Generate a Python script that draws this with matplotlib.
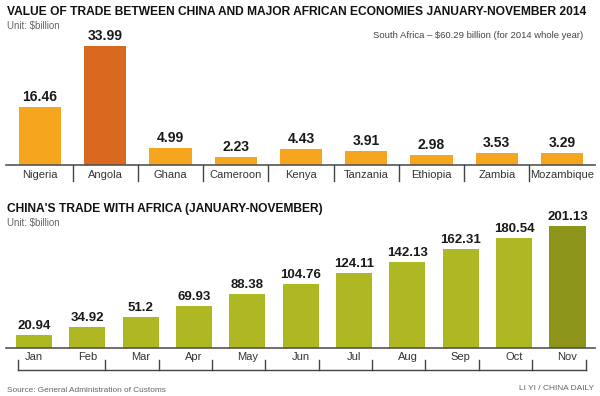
import matplotlib
matplotlib.use("Agg")
import matplotlib.pyplot as plt
import numpy as np

# Data
countries = ["Nigeria", "Angola", "Ghana", "Cameroon", "Kenya",
             "Tanzania", "Ethiopia", "Zambia", "Mozambique"]
country_values = [16.46, 33.99, 4.99, 2.23, 4.43, 3.91, 2.98, 3.53, 3.29]
country_labels = ["16.46", "33.99", "4.99", "2.23", "4.43", "3.91", "2.98", "3.53", "3.29"]

months = ["Jan", "Feb", "Mar", "Apr", "May", "Jun",
          "Jul", "Aug", "Sep", "Oct", "Nov"]
month_values = [20.94, 34.92, 51.2, 69.93, 88.38, 104.76,
                124.11, 142.13, 162.31, 180.54, 201.13]
month_labels = ["20.94", "34.92", "51.2", "69.93", "88.38", "104.76",
                "124.11", "142.13", "162.31", "180.54", "201.13"]

W, H = 600, 396
plt.rcParams["font.family"] = ["Liberation Sans", "DejaVu Sans"]

fig = plt.figure(figsize=(W / 100, H / 100), dpi=100)
fig.patch.set_facecolor("white")
renderer = fig.canvas.get_renderer()


def fy(px):
    # pixel-from-top to figure fraction
    return 1 - px / H


def add_axes_px(top, bottom):
    return fig.add_axes([0, fy(bottom), 1, (bottom - top) / H])


def fit_width(txt, target_px):
    # scale font so the text is as wide as in the reference
    w = txt.get_window_extent(renderer=renderer).width
    txt.set_fontsize(txt.get_fontsize() * target_px / w)


# ---------------- Top chart ----------------
ax1 = add_axes_px(40, 165)
step1 = 65.25
first1 = 40
ax1.set_xlim(-first1 / step1, (W - first1) / step1)
ppu1 = 3.5
ax1.set_ylim(0, 125 / ppu1)
ax1.axis("off")

x1 = np.arange(len(countries))
colors1 = ["#F6A61E"] * len(countries)
colors1[1] = "#D9691F"
ax1.bar(x1, country_values, width=0.645, color=colors1)
for xi, v, lab in zip(x1, country_values, country_labels):
    ax1.text(xi, v + 3 / ppu1, lab, ha="center", va="bottom",
             fontsize=10, fontweight="bold", color="#1a1a1a")
# baseline
ax1.plot([(6 - first1) / step1, (595 - first1) / step1], [0, 0],
         color="#555555", lw=1.2, clip_on=False)
# separators
for b in x1[:-1] + 0.5:
    ax1.plot([b, b], [0, -16 / ppu1], color="#444444", lw=1, clip_on=False)
for xi, name in zip(x1, countries):
    ax1.text(xi, -10 / ppu1, name, ha="center", va="center",
             fontsize=8, color="#333333")

# ---------------- Bottom chart ----------------
ax2 = add_axes_px(220, 348)
step2 = 53.35
first2 = 34
ax2.set_xlim(-first2 / step2, (W - first2) / step2)
ppu2 = 0.607
ax2.set_ylim(0, 128 / ppu2)
ax2.axis("off")

x2 = np.arange(len(months))
colors2 = ["#AEB822"] * len(months)
colors2[-1] = "#8C951A"
bw2 = 0.675
ax2.bar(x2, month_values, width=bw2, color=colors2)
for xi, v, lab in zip(x2, month_values, month_labels):
    ax2.text(xi, v + 3 / ppu2, lab, ha="center", va="bottom",
             fontsize=9.5, fontweight="bold", color="#1a1a1a")
ax2.plot([(6 - first2) / step2, (595 - first2) / step2], [0, 0],
         color="#555555", lw=1.2, clip_on=False)
for xi, name in zip(x2, months):
    ax2.text(xi, -9 / ppu2, name, ha="center", va="center",
             fontsize=8, color="#333333")
# bracket under months
ticks = [-0.3] + list(x2[1:] + bw2 / 2)
y_top, y_bot = -12 / ppu2, -22 / ppu2
ax2.plot([ticks[0], ticks[-1]], [y_bot, y_bot], color="#444444", lw=1, clip_on=False)
for t in ticks:
    ax2.plot([t, t], [y_top, y_bot], color="#444444", lw=1, clip_on=False)

# ---------------- Texts ----------------
t = fig.text(7 / W, fy(12), "VALUE OF TRADE BETWEEN CHINA AND MAJOR AFRICAN ECONOMIES JANUARY-NOVEMBER 2014",
             ha="left", va="center", fontsize=10, fontweight="bold", color="#111111")
fit_width(t, 581)
t = fig.text(7 / W, fy(26), r"Unit: \$billion", ha="left", va="center",
             fontsize=7.5, color="#666666")
fit_width(t, 53)
t = fig.text(583 / W, fy(35), r"South Africa – \$60.29 billion (for 2014 whole year)",
             ha="right", va="center", fontsize=7.5, color="#444444")
fit_width(t, 209)

t = fig.text(7 / W, fy(209), "CHINA'S TRADE WITH AFRICA (JANUARY-NOVEMBER)",
             ha="left", va="center", fontsize=10, fontweight="bold", color="#111111")
fit_width(t, 317)
t = fig.text(7 / W, fy(223), r"Unit: \$billion", ha="left", va="center",
             fontsize=7.5, color="#666666")
fit_width(t, 53)

t = fig.text(7 / W, fy(390), "Source: General Administration of Customs",
             ha="left", va="center", fontsize=6.5, color="#666666")
fit_width(t, 158)
t = fig.text(594 / W, fy(388), "LI YI / CHINA DAILY",
             ha="right", va="center", fontsize=6.5, color="#666666")
fit_width(t, 75)

fig.savefig("out.png", dpi=100, facecolor="white")
